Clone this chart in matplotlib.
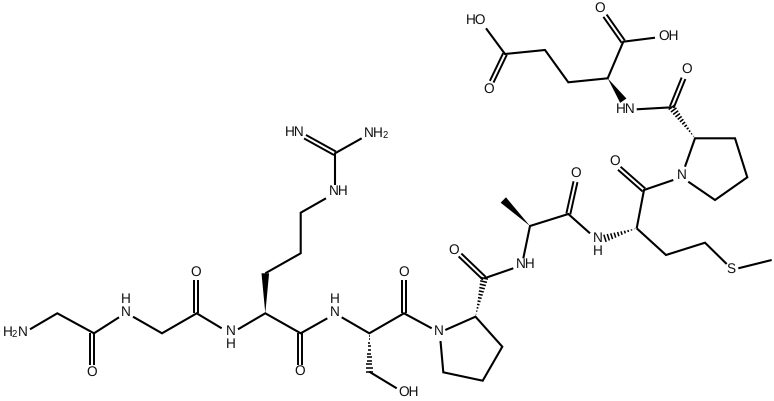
import numpy as np
import matplotlib
matplotlib.use('Agg')
import matplotlib.pyplot as plt
from matplotlib.patches import Polygon

plt.rcParams['font.family'] = ['Liberation Sans', 'DejaVu Sans']
plt.rcParams['mathtext.default'] = 'regular'
plt.rcParams['text.hinting'] = 'none'

W, H = 774, 401

# single bonds, pixel positions
bonds = [
    [(30, 329.3), (57.3, 313.3), (94, 333.3), (119, 317.3)],
    [(133, 316.7), (162, 333.3), (196.7, 313.3), (221.7, 328.3)],
    [(238, 329.3), (265.3, 313.3), (300.7, 333.3), (327.3, 318.3)],
    [(265.3, 273.3), (300.7, 253.3), (300.7, 212.7), (326, 198.3)],
    [(335, 185), (335, 153.3), (361.7, 138.3)],
    [(341.7, 317.3), (369.3, 333.3), (404, 313.3), (431.7, 328.3)],
    [(369.3, 371.7), (396.7, 388.3)],
    [(445.3, 330), (475.5, 316.7), (502.3, 346.7), (482.7, 380.7), (443.3, 372.3), (440.5, 341)],
    [(484.3, 278.3), (513.3, 268.3)],
    [(523.3, 258.3), (530, 226), (568.3, 214), (590, 233.3)],
    [(636.7, 228.3), (644, 190), (673.3, 180)],
    [(636.7, 228.3), (666, 255), (705, 242.7), (726.7, 264)],
    [(738.3, 268.3), (771.7, 260)],
    [(685, 166.7), (695, 138.3), (735, 138.3), (747.3, 177.3), (715, 200), (688.3, 181.7)],
    [(636.7, 109.3), (671.7, 107.3)],
    [(655, 37.7), (623.3, 41.7), (607.7, 78.3), (568.3, 82.3), (545, 50), (505, 54), (486, 28.3)],
]

# double bonds: end, end
doubles = [
    [(92.3, 333.3), (92.3, 365)],
    [(195.7, 313.3), (195.7, 280)],
    [(300.3, 333.3), (300.3, 365)],
    [(403.7, 313.3), (403.7, 280)],
    [(335, 153.3), (305, 136.7)],
    [(484.3, 278.3), (460, 255)],
    [(568.3, 214), (575.5, 181.7)],
    [(644, 190), (619.3, 168.3)],
    [(671.7, 107.3), (683.5, 78.3)],
    [(505, 54), (491.7, 81.7)],
    [(623.3, 41.7), (605, 15.7)],
]

# solid wedges: narrow end, wide end
wedges = [
    [(265.3, 313.3), (265.3, 273.3)],
    [(530, 226), (503.3, 200)],
    [(607.7, 78.3), (623.3, 100.7)],
]

# hashed wedges: narrow end, wide end
hashes = [
    [(369.3, 333.3), (369.3, 371.7)],
    [(475.5, 316.7), (484.3, 278.3)],
    [(636.7, 228.3), (605, 238.3)],
    [(695, 138.3), (671.7, 107.3)],
]

labels = [
    (15, 332.5, 'H$_2$N'), (126, 306, 'H\nN'), (92, 372, 'O'),
    (230.3, 338, 'N\nH'), (195.7, 272, 'O'),
    (300, 371.7, 'O'), (339, 191.7, 'NH'), (295, 132.3, 'HN'),
    (376.5, 132.7, 'NH$_2$'), (334.3, 306, 'H\nN'),
    (403.7, 272.3, 'O'), (408.3, 392, 'OH'), (438.3, 331.7, 'N'),
    (453.3, 250, 'O'), (526, 264, 'NH'), (575.7, 173.3, 'O'),
    (597.3, 245, 'N\nH'), (614.3, 161, 'O'),
    (682, 175.7, 'N'), (731.3, 269.3, 'S'), (625.7, 109, 'HN'),
    (686.7, 69, 'O'), (488.3, 89.3, 'O'), (476, 20.7, 'HO'),
    (668.3, 36, 'OH'), (600, 8.3, 'O'),
]

LW = 1.5
GAP = 2.0
WEDGE = 3.8


def normal(a, b):
    a, b = np.array(a, float), np.array(b, float)
    d = (b - a) / np.hypot(*(b - a))
    return a, b, np.array([-d[1], d[0]])


fig = plt.figure(figsize=(W / 100, H / 100), dpi=100)
ax = fig.add_axes([0, 0, 1, 1])
ax.set_xlim(0, W)
ax.set_ylim(H, 0)
ax.axis('off')

for b in bonds:
    ax.plot([p[0] for p in b], [p[1] for p in b], color='black', lw=LW,
            solid_joinstyle='miter', solid_capstyle='butt')

for p, q in doubles:
    a, b, n = normal(p, q)
    for s in (-GAP, GAP):
        ax.plot([a[0] + s * n[0], b[0] + s * n[0]], [a[1] + s * n[1], b[1] + s * n[1]],
                color='black', lw=LW - 0.1, solid_capstyle='butt')

for p, q in wedges:
    a, b, n = normal(p, q)
    ax.add_patch(Polygon([a, b + WEDGE * n, b - WEDGE * n], closed=True, color='black', lw=0))

for p, q in hashes:
    a, b, n = normal(p, q)
    nsteps = int(np.hypot(*(b - a)) / 3.2)
    for t in np.linspace(0.06, 1, nsteps):
        c = a + (b - a) * t
        ax.plot([c[0] - WEDGE * t * n[0], c[0] + WEDGE * t * n[0]],
                [c[1] - WEDGE * t * n[1], c[1] + WEDGE * t * n[1]],
                color='black', lw=1.1, solid_capstyle='butt')

for x, y, s in labels:
    ax.text(x, y, s, fontsize=9.8, ha='center', va='center', color='#111111', linespacing=0.95)

fig.savefig('out.png', dpi=100)
